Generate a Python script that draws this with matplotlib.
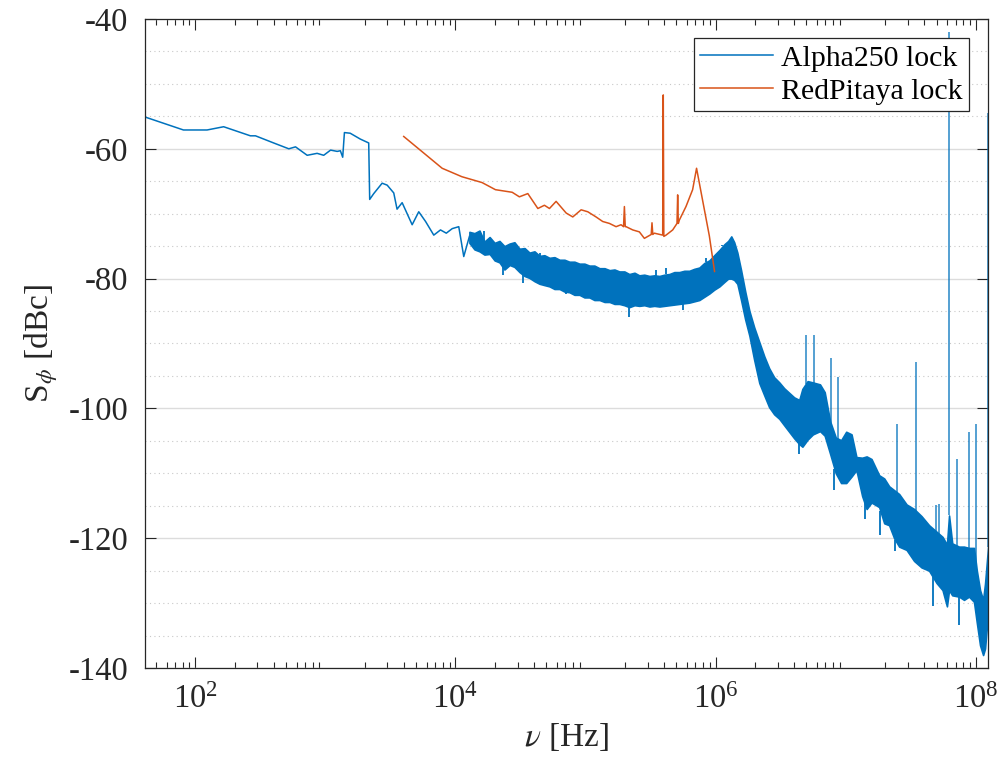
import numpy as np
import matplotlib
matplotlib.use("Agg")
import matplotlib.pyplot as plt
from matplotlib.ticker import MultipleLocator, LogLocator, NullFormatter

plt.rcParams['font.family'] = ['Liberation Serif', 'DejaVu Serif']
plt.rcParams['mathtext.fontset'] = 'stix'

# ---- Alpha250 lock: low-frequency thin trace (Hz, dBc)
a_lo_f = [41, 81, 123, 165, 265, 290, 400, 523, 589, 724, 863, 970, 1096, 1232, 1303,
          1358, 1400, 1551, 1854, 2152, 2190, 2353, 2730, 2985, 3353, 3555, 3890, 4645,
          5220, 5890, 6810, 7670, 8500, 9440, 10600, 11580, 12800]
a_lo_s = [-55.1, -57.1, -57.1, -56.6, -58.0, -58.0, -59.1, -60.0, -59.7, -61.0, -60.7,
          -61.0, -60.2, -60.4, -60.3, -61.3, -57.5, -57.6, -58.5, -59.1, -67.8, -66.9,
          -65.3, -65.6, -66.8, -69.3, -68.3, -71.7, -69.7, -71.2, -73.3, -72.5, -73.0,
          -72.3, -72.0, -76.6, -73.5]

# ---- Alpha250 lock: dense noisy part, upper / lower envelope (Hz, dBc)
a_band_f = [1.28e4, 1.40e4, 1.53e4, 1.67e4, 1.83e4, 2.00e4, 2.18e4, 2.38e4, 2.61e4, 2.84e4,
            3.11e4, 3.40e4, 3.71e4, 4.05e4, 4.43e4, 4.83e4, 5.28e4, 5.77e4, 6.31e4, 6.89e4,
            7.52e4, 8.22e4, 8.98e4, 9.81e4, 1.07e5, 1.17e5, 1.28e5, 1.40e5, 1.53e5, 1.67e5,
            1.82e5, 1.99e5, 2.17e5, 2.38e5, 2.59e5, 2.83e5, 3.10e5, 3.38e5, 3.70e5, 4.04e5,
            4.41e5, 4.82e5, 5.26e5, 5.75e5, 6.28e5, 6.86e5, 7.50e5, 8.19e5, 8.95e5, 9.77e5,
            1.07e6, 1.17e6, 1.25e6, 1.32e6, 1.39e6, 1.47e6, 1.57e6, 1.69e6, 1.82e6, 1.98e6,
            2.17e6, 2.37e6, 2.58e6, 2.82e6, 3.09e6, 3.37e6, 3.68e6, 4.02e6, 4.40e6, 4.65e6,
            5.10e6, 5.60e6, 6.35e6, 6.90e6, 7.60e6, 8.40e6, 9.23e6, 1.01e7, 1.11e7, 1.21e7,
            1.34e7, 1.45e7, 1.58e7, 1.81e7, 1.98e7, 2.16e7, 2.36e7, 2.58e7, 2.94e7, 3.36e7,
            3.83e7, 4.38e7, 5.00e7, 5.56e7, 6.01e7, 6.24e7, 6.60e7, 7.44e7, 8.13e7, 8.88e7,
            9.70e7, 1.02e8, 1.08e8, 1.14e8, 1.18e8, 1.25e8]
a_band_hi = [-72.8, -73.0, -72.6, -74.3, -73.6, -74.5, -74.2, -75.0, -74.6, -74.4,
             -75.4, -75.3, -76.0, -75.8, -76.5, -76.4, -76.8, -76.7, -77.1, -77.1,
             -77.4, -77.4, -77.7, -77.7, -78.0, -78.0, -78.4, -78.4, -78.7, -78.6,
             -78.9, -78.9, -79.3, -79.1, -79.5, -79.4, -79.6, -79.5, -79.6, -79.4,
             -79.3, -79.0, -79.0, -78.8, -78.8, -78.5, -78.3, -77.6, -77.2, -76.4,
             -75.6, -74.7, -74.2, -73.5, -74.4, -76.0, -78.7, -82.0, -85.0, -87.5,
             -89.8, -92.0, -93.8, -95.2, -96.0, -96.9, -97.6, -98.3, -98.7, -97.0,
             -95.8, -96.0, -96.3, -97.5, -102.0, -104.5, -104.9, -103.6, -104.0, -107.5,
             -107.6, -107.4, -107.8, -110.3, -110.8, -112.0, -112.6, -113.2, -114.8, -115.5,
             -116.6, -118.0, -119.0, -119.8, -121.0, -116.5, -120.8, -121.3, -121.3, -121.5,
             -121.5, -125.0, -128.0, -129.5, -127.0, -121.0]
a_band_lo = [-74.5, -75.5, -75.8, -76.3, -76.2, -77.2, -77.5, -78.6, -77.9, -78.2,
             -79.0, -79.6, -79.9, -80.4, -80.8, -81.0, -81.2, -81.6, -81.6, -82.0,
             -82.1, -82.5, -82.5, -82.9, -82.9, -83.3, -83.3, -83.6, -83.6, -83.9,
             -83.9, -84.1, -84.4, -84.1, -84.2, -84.1, -84.3, -84.2, -84.3, -84.2,
             -84.1, -84.0, -83.9, -83.8, -83.7, -83.5, -83.3, -82.8, -82.3, -81.7,
             -81.2, -80.5, -80.0, -80.0, -80.2, -80.8, -83.3, -86.3, -88.8, -92.5,
             -96.1, -98.0, -99.8, -100.9, -101.6, -102.6, -103.6, -104.6, -105.5, -105.9,
             -104.8, -104.0, -103.5, -104.2, -107.0, -110.0, -111.5, -111.5, -110.5, -109.5,
             -113.5, -115.5, -114.5, -115.2, -117.7, -118.0, -120.0, -121.3, -121.8, -123.5,
             -124.5, -125.0, -126.9, -128.0, -130.5, -128.0, -128.8, -129.0, -129.5, -129.0,
             -129.8, -133.0, -136.5, -138.0, -137.0, -131.0]

# ---- Alpha250 lock: isolated noise excursions above / below the band (Hz, dBc)
a_up_f = [1.67e4, 2.76e4, 4.43e4, 1.01e5, 3.48e5, 4.16e5, 8.43e5, 1.13e6]
a_up_s = [-72.6, -74.6, -76.1, -78.2, -78.7, -78.4, -76.9, -74.8]
a_dn_f = [2.31e4, 3.30e4, 7.10e4, 1.21e5, 2.17e5, 3.48e5, 5.58e5, 4.4e6, 8.2e6, 1.4e7,
          1.85e7, 2.4e7, 4.7e7, 7.4e7]
a_dn_s = [-79.4, -80.7, -82.3, -83.3, -85.9, -84.3, -84.8, -107.0, -112.5, -117.0,
          -119.5, -122.0, -130.5, -133.3]

# ---- Alpha250 lock: narrow spurs (Hz, top dBc)
a_spur_f = [4.94e6, 5.73e6, 7.69e6, 8.81e6, 2.50e7, 3.46e7, 4.98e7, 5.2e7, 6.24e7, 7.22e7,
            8.88e7, 1.0e8, 1.245e8]
a_spur_top = [-88.7, -88.7, -92.3, -95.1, -102.4, -92.9, -114.9, -114.8, -42.0, -107.8,
              -103.7, -102.4, -54.5]

# ---- RedPitaya lock (Hz, dBc)
r_f = [4000, 7900, 11200, 16000, 20300, 27300, 31000, 36000, 43000, 48300, 52800, 59400,
       71000, 79800, 92500, 104000, 120500, 135500, 152700, 171700, 187600, 196000,
       199000, 202000, 205000, 230700, 259400, 283400, 320000, 324400, 329000, 338000,
       392000, 396000, 400000, 416000, 468000, 505000, 511000, 517000, 526000, 592000,
       666000, 714000, 794000, 895000, 982000]
r_s = [-58.1, -63.0, -64.3, -65.2, -66.3, -66.7, -67.4, -66.9, -69.2, -68.7, -69.2, -68.1,
       -69.9, -70.5, -69.4, -69.7, -70.5, -71.2, -71.5, -72.0, -71.7, -72.0,
       -68.9, -72.0, -72.0, -72.5, -72.8, -73.8, -73.2, -71.4, -73.2, -73.0,
       -73.3, -51.7, -73.5, -73.3, -72.5, -71.5, -67.1, -71.5, -71.0, -68.9,
       -66.3, -63.0, -67.9, -73.4, -78.9]

blue = '#0072BD'
orange = '#D95319'

fig = plt.figure(figsize=(10.02, 7.73), dpi=100)
ax = fig.add_axes([145 / 1002, 1 - 668 / 773, (988.3 - 145) / 1002, (668 - 19) / 773])

lf_band = np.log10(a_band_f)
ax.plot(a_lo_f, a_lo_s, color=blue, lw=1.1, label='Alpha250 lock')
ax.fill_between(a_band_f, a_band_lo, a_band_hi, color=blue, lw=1.2, edgecolor=blue)
ax.vlines(a_up_f, np.interp(np.log10(a_up_f), lf_band, a_band_hi), a_up_s,
          color=blue, lw=1.3)
ax.vlines(a_dn_f, np.interp(np.log10(a_dn_f), lf_band, a_band_lo), a_dn_s,
          color=blue, lw=1.3)
ax.vlines(a_spur_f, np.interp(np.log10(a_spur_f), lf_band, a_band_hi),
          a_spur_top, color=blue, lw=1.1, alpha=0.85)
ax.plot(r_f, r_s, color=orange, lw=1.1, label='RedPitaya lock')

ax.set_xscale('log')
ax.set_xlim(41, 1.25e8)
ax.set_ylim(-140, -40)
ax.set_xticks([1e2, 1e4, 1e6, 1e8])
ax.xaxis.set_minor_locator(LogLocator(base=10, subs=np.arange(2, 10), numticks=20))
ax.xaxis.set_minor_formatter(NullFormatter())
ax.yaxis.set_minor_locator(MultipleLocator(5))
ax.set_yticks([-140, -120, -100, -80, -60, -40])
ax.set_yticklabels(['-140', '-120', '-100', '-80', '-60', '-40'])

ax.grid(True, which='major', axis='y', color='#dcdcdc', lw=1.0, ls='-')
ax.grid(True, which='minor', axis='y', color='#c8c8c8', lw=0.8, ls=(0, (1, 3)))
ax.set_axisbelow(True)

ax.tick_params(axis='both', which='both', direction='in', top=True, right=True,
               colors='#262626', labelsize=23.5)
ax.tick_params(axis='x', which='major', length=8, width=0.8, pad=12)
ax.tick_params(axis='x', which='minor', length=4, width=0.8)
ax.tick_params(axis='y', which='major', length=8, width=0.8, pad=12)
ax.tick_params(axis='y', which='minor', length=0)
for s in ax.spines.values():
    s.set_color('#262626')
    s.set_linewidth(0.9)

ax.set_xlabel(r'$\nu$ [Hz]', fontsize=24, color='#262626', labelpad=4)
ax.set_ylabel(r'S$_{\phi}$ [dBc]', fontsize=24, color='#262626', labelpad=6)

leg = ax.legend(loc='upper right', fontsize=21.5, frameon=True, fancybox=False,
                edgecolor='#262626', framealpha=1, borderpad=0.22, labelspacing=0.2,
                handlelength=2.45, handletextpad=0.25, borderaxespad=0.65)
leg.get_frame().set_linewidth(0.9)

fig.savefig('out.png', dpi=100)
